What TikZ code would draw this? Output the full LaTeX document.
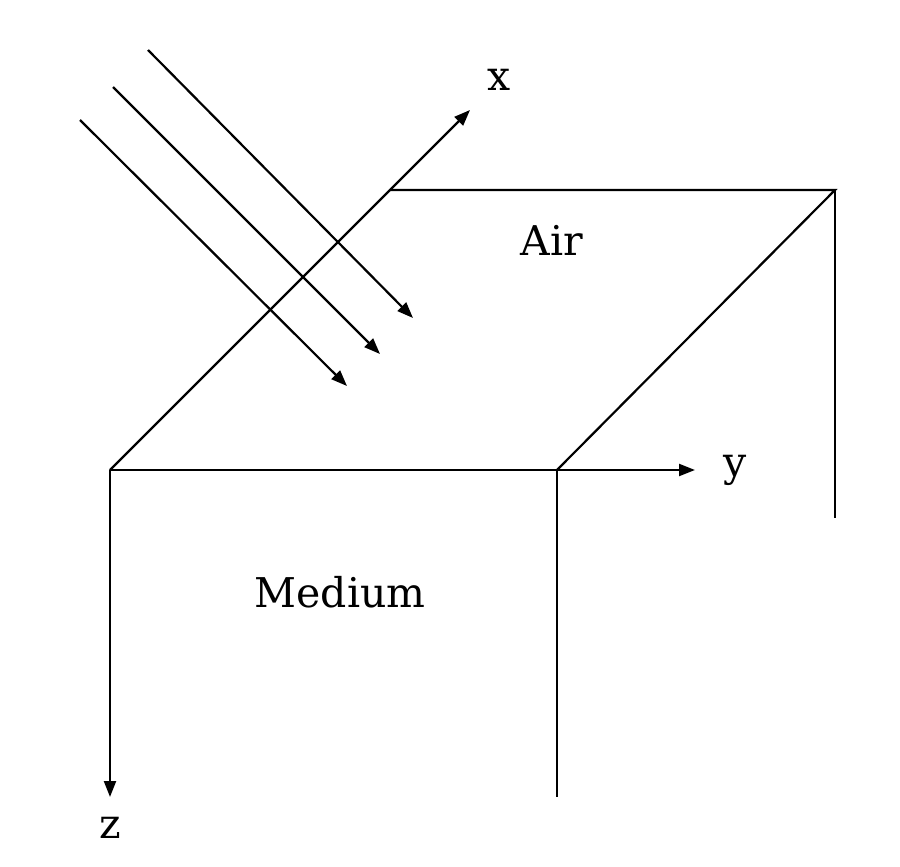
\documentclass[tikz,border=0pt]{standalone}
\usepackage{fontspec}
\setmainfont{DejaVu Serif}
\usetikzlibrary{arrows.meta}
\begin{document}
\begin{tikzpicture}[x=1pt,y=-1pt,
  ln/.style={line width=2.2pt,black},
  ar/.style={ln,-{Triangle[length=16pt,width=12pt]}},
  lbl/.style={font=\fontsize{41}{45}\selectfont,inner sep=0pt}]
\useasboundingbox (0,0) rectangle (900,867);
\coordinate (O) at (110,470);
\coordinate (X) at (470,110);
\coordinate (A) at (390,190);
\coordinate (B) at (835,190);
\coordinate (C) at (557,470);
\coordinate (Y) at (695,470);
\coordinate (Bd) at (835,518);
\coordinate (Cd) at (557,797);
\coordinate (Z) at (110,797);
\draw[ar] (O) -- (X);
\draw[ln] (A) -- (B) -- (C);
\draw[ar] (O) -- (Y);
\draw[ln] (B) -- (Bd);
\draw[ln] (C) -- (Cd);
\draw[ar] (O) -- (Z);
\coordinate (r1s) at (148,50);  \coordinate (r1e) at (413,318);
\coordinate (r2s) at (113,87);  \coordinate (r2e) at (380,354);
\coordinate (r3s) at (80,120);  \coordinate (r3e) at (347,386);
\draw[ar] (r1s) -- (r1e);
\draw[ar] (r2s) -- (r2e);
\draw[ar] (r3s) -- (r3e);
\node[lbl] (lx) at (499,80) {x};
\node[lbl] (ly) at (735,470) {y};
\node[lbl] (lz) at (110,828) {z};
\node[lbl] (air) at (552,240) {Air};
\node[lbl] (med) at (340,592) {Medium};
\end{tikzpicture}
\end{document}
